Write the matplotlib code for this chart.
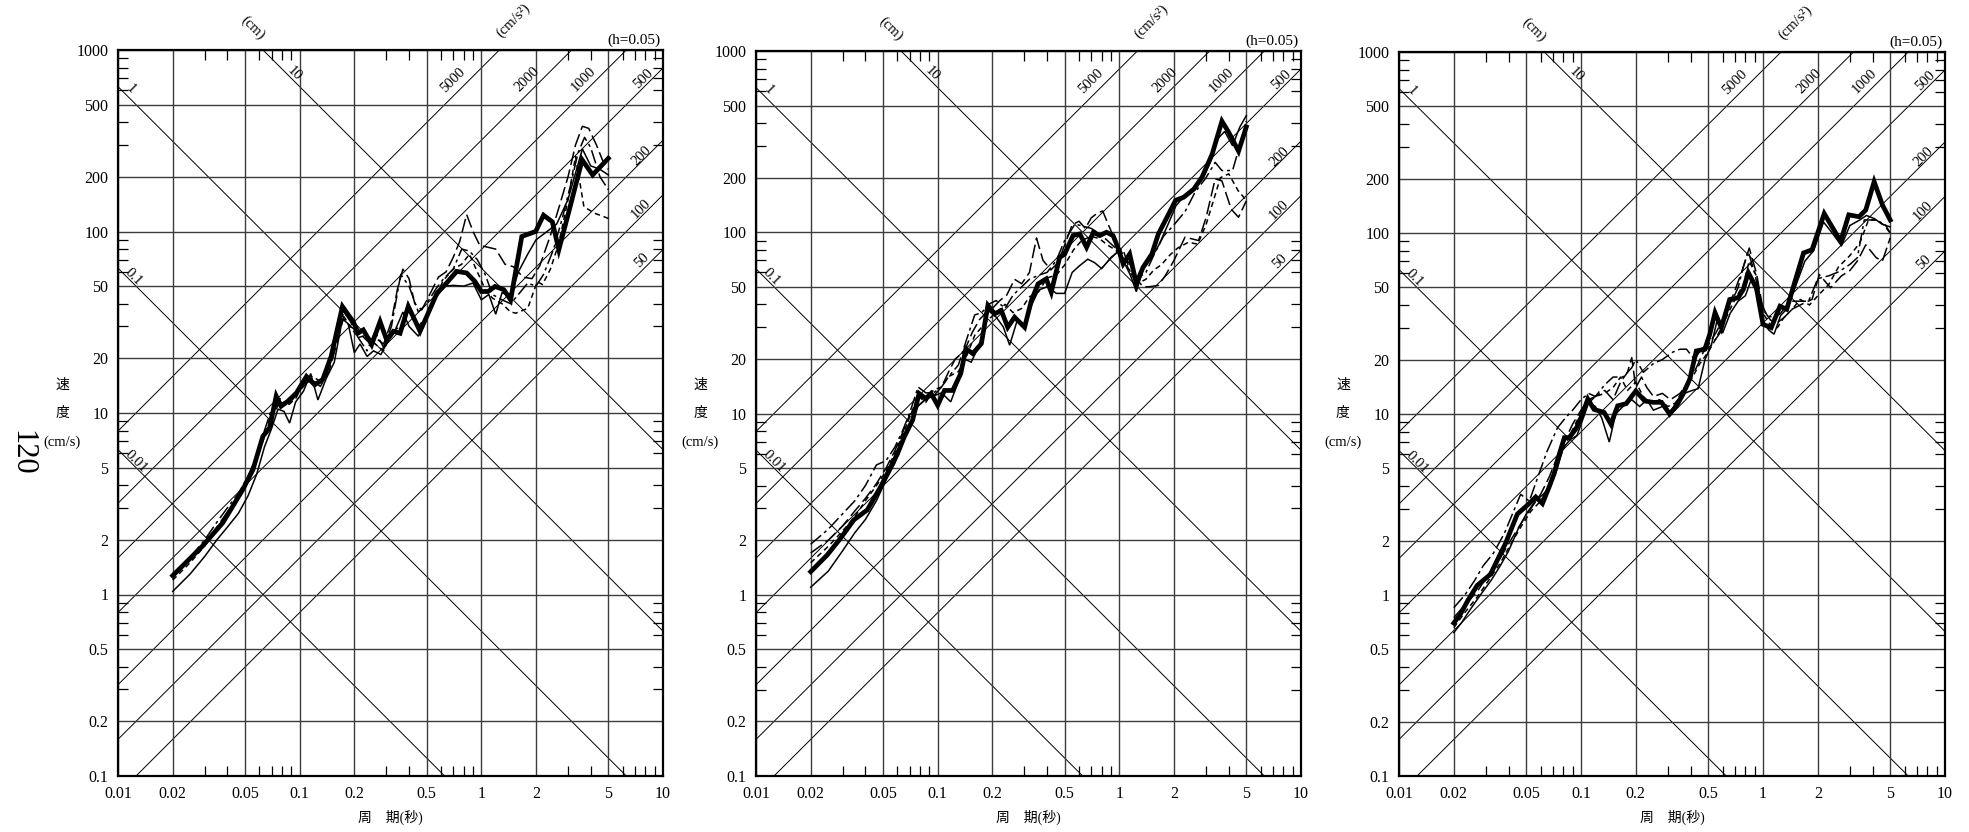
import numpy as np
import matplotlib
matplotlib.use("Agg")
import matplotlib.pyplot as plt
from matplotlib.ticker import FixedLocator, FixedFormatter, NullFormatter

plt.rcParams['font.family'] = ['Liberation Serif', 'Noto Sans CJK JP']

# ---------------------------------------------------------------------------
#  Tripartite grid levels
# ---------------------------------------------------------------------------
disp_levels = [0.01, 0.1, 1, 10]                       # cm
acc_levels = [50, 100, 200, 500, 1000, 2000, 5000]     # cm/s^2

x_major = [0.01, 0.02, 0.05, 0.1, 0.2, 0.5, 1, 2, 5, 10]
x_labels = ["0.01", "0.02", "0.05", "0.1", "0.2", "0.5", "1", "2", "5", "10"]
y_major = [0.1, 0.2, 0.5, 1, 2, 5, 10, 20, 50, 100, 200, 500, 1000]
y_labels = ["0.1", "0.2", "0.5", "1", "2", "5", "10", "20", "50", "100", "200", "500", "1000"]

# ---------------------------------------------------------------------------
#  Panel 1 spectra (period [s], velocity [cm/s])
# ---------------------------------------------------------------------------
p1_thick_T = [0.02, 0.0292, 0.0377, 0.0486, 0.0553, 0.0627, 0.0683, 0.0743, 0.079, 0.086, 0.096, 0.109, 0.121,
              0.134, 0.149, 0.172, 0.185, 0.197, 0.21, 0.224, 0.249, 0.277, 0.301, 0.328, 0.357, 0.396, 0.46,
              0.51, 0.57, 0.632, 0.73, 0.83, 0.92, 1.0, 1.09, 1.19, 1.33, 1.45, 1.67, 1.99, 2.2, 2.46, 2.67,
              3.04, 3.59, 4.1, 5.0]
p1_thick_V = [1.27, 1.85, 2.48, 3.78, 4.87, 7.44, 8.27, 12.4, 10.9, 11.6, 12.9, 15.9, 14.3, 15.3, 20.5, 38.6,
              34.8, 31.9, 27.6, 28.7, 23.8, 31.9, 25.3, 28.2, 27.5, 38.7, 28.2, 35.5, 45.8, 50.9, 60.3, 59.1,
              53.2, 46.7, 46.7, 49.8, 47.8, 42.0, 93.9, 100, 123, 113, 79.3, 130, 248, 205, 253]

p1_thin_T = [0.02, 0.025, 0.03, 0.035, 0.04, 0.046, 0.052, 0.058, 0.064, 0.07, 0.076, 0.082, 0.088, 0.095, 0.105,
             0.115, 0.126, 0.14, 0.155, 0.172, 0.185, 0.2, 0.215, 0.235, 0.255, 0.28, 0.3, 0.33, 0.37, 0.4, 0.45,
             0.5, 0.56, 0.63, 0.7, 0.8, 0.9, 1.0, 1.1, 1.2, 1.3, 1.45, 1.6, 1.8, 2.0, 2.3, 2.6, 3.0, 3.3, 3.6,
             4.0, 4.5, 5.0]
p1_thin_V = [1.04, 1.3, 1.62, 2.0, 2.35, 2.8, 3.5, 4.6, 6.5, 8.2, 10.5, 10.2, 8.8, 11.5, 13.2, 16.5, 11.8, 15.5,
             19.0, 33.0, 31.0, 21.5, 24.0, 20.5, 22.0, 21.0, 24.0, 27.5, 36.0, 30.0, 26.5, 33.0, 43.0, 50.0,
             50.5, 50.0, 52.0, 42.0, 45.0, 35.0, 46.0, 44.0, 60.0, 75.0, 90.0, 100, 110, 150, 210, 285, 230,
             220, 205]

p1_dash_T = [0.02, 0.025, 0.03, 0.035, 0.04, 0.046, 0.052, 0.058, 0.064, 0.07, 0.077, 0.085, 0.095, 0.105, 0.115,
             0.13, 0.145, 0.16, 0.175, 0.19, 0.21, 0.235, 0.26, 0.29, 0.32, 0.345, 0.37, 0.4, 0.43, 0.47, 0.52,
             0.58, 0.64, 0.7, 0.76, 0.83, 0.9, 0.98, 1.08, 1.2, 1.35, 1.5, 1.7, 1.9, 2.1, 2.4, 2.7, 3.0, 3.3,
             3.6, 3.9, 4.3, 4.7, 5.0]
p1_dash_V = [1.25, 1.55, 1.9, 2.35, 2.85, 3.4, 4.3, 5.6, 7.5, 10.0, 11.5, 11.0, 12.5, 14.0, 15.5, 14.0, 17.0,
             24.0, 34.0, 30.0, 28.0, 25.0, 26.0, 24.0, 32.0, 48.0, 62.0, 55.0, 40.0, 37.0, 45.0, 56.0, 60.0,
             72.0, 88.0, 124, 100, 84.0, 82.0, 80.0, 66.0, 64.0, 56.0, 55.0, 65.0, 95.0, 140, 200, 300, 380,
             370, 300, 240, 220]

p1_sdash_T = [0.02, 0.025, 0.03, 0.035, 0.04, 0.046, 0.052, 0.058, 0.064, 0.07, 0.078, 0.086, 0.095, 0.105, 0.115,
              0.13, 0.145, 0.16, 0.175, 0.19, 0.21, 0.235, 0.26, 0.29, 0.32, 0.36, 0.4, 0.45, 0.5, 0.56, 0.62,
              0.7, 0.78, 0.86, 0.95, 1.05, 1.15, 1.3, 1.45, 1.55, 1.8, 2.03, 2.17, 2.4, 2.67, 3.0, 3.3, 3.67,
              4.2, 4.6, 5.0]
p1_sdash_V = [1.2, 1.5, 1.85, 2.3, 2.8, 3.5, 4.4, 5.6, 7.4, 9.5, 11.5, 11.0, 12.0, 14.5, 15.0, 14.5, 18.0, 28.0,
              33.0, 30.0, 26.0, 27.0, 24.0, 22.0, 28.0, 30.0, 37.0, 30.0, 34.0, 44.0, 54.0, 62.0, 66.0, 75.0,
              60.0, 48.0, 43.0, 40.0, 36.0, 35.5, 37.7, 53.0, 51.0, 62.0, 86.0, 150, 259, 137, 126, 122, 118]

p1_dd_T = [0.02, 0.025, 0.03, 0.035, 0.04, 0.046, 0.052, 0.058, 0.064, 0.07, 0.078, 0.086, 0.095, 0.105, 0.115,
           0.13, 0.145, 0.16, 0.175, 0.19, 0.21, 0.235, 0.26, 0.29, 0.32, 0.36, 0.4, 0.45, 0.5, 0.56, 0.62, 0.7,
           0.78, 0.86, 0.95, 1.05, 1.15, 1.3, 1.45, 1.6, 1.8, 2.0, 2.2, 2.5, 2.8, 3.1, 3.4, 3.7, 4.0, 4.5, 5.0]
p1_dd_V = [1.3, 1.6, 2.0, 2.5, 3.0, 3.6, 4.5, 5.8, 8.0, 10.5, 12.0, 11.0, 12.5, 14.5, 16.0, 15.0, 18.0, 26.0,
           36.0, 32.0, 26.0, 22.0, 28.0, 23.0, 30.0, 58.0, 50.0, 36.0, 40.0, 48.0, 55.0, 62.0, 80.0, 78.0, 70.0,
           58.0, 45.0, 42.0, 40.0, 45.0, 52.0, 50.0, 58.0, 80.0, 120, 180, 270, 330, 290, 200, 170]

# ---------------------------------------------------------------------------
#  Panel 2 spectra
# ---------------------------------------------------------------------------
p2_thick_T = [0.02, 0.0247, 0.0292, 0.0346, 0.041, 0.0486, 0.0553, 0.0601, 0.0655, 0.0728, 0.079, 0.086, 0.092,
              0.1, 0.109, 0.121, 0.134, 0.143, 0.156, 0.174, 0.189, 0.206, 0.224, 0.243, 0.265, 0.301, 0.328,
              0.357, 0.396, 0.422, 0.469, 0.5, 0.556, 0.606, 0.66, 0.72, 0.78, 0.85, 0.924, 0.98, 1.05, 1.14,
              1.24, 1.35, 1.51, 1.64, 1.83, 2.04, 2.26, 2.57, 2.85, 3.24, 3.67, 4.0, 4.53, 5.0]
p2_thick_V = [1.34, 1.66, 2.05, 2.59, 2.94, 3.95, 5.1, 6.0, 7.44, 9.2, 12.9, 12.1, 12.9, 11.1, 13.4, 13.4, 16.6,
              22.8, 21.4, 24.3, 39.5, 35.5, 37.0, 29.9, 34.0, 29.9, 42.0, 51.9, 55.3, 46.7, 72.5, 75.8, 95.9,
              97.9, 82.6, 100, 95.9, 100, 95.9, 82.6, 66.9, 75.8, 52.1, 64.0, 75.8, 97.9, 121, 150, 156, 173,
              201, 269, 410, 356, 280, 381]

p2_thin_T = [0.02, 0.025, 0.03, 0.035, 0.04, 0.046, 0.052, 0.058, 0.064, 0.07, 0.078, 0.086, 0.095, 0.105, 0.118,
             0.13, 0.14, 0.153, 0.17, 0.19, 0.21, 0.23, 0.249, 0.275, 0.3, 0.33, 0.36, 0.4, 0.45, 0.5, 0.55, 0.6,
             0.67, 0.73, 0.8, 0.9, 0.98, 1.05, 1.15, 1.24, 1.35, 1.5, 1.65, 1.85, 2.05, 2.3, 2.6, 2.9, 3.2, 3.5,
             3.8, 4.2, 4.6, 5.0]
p2_thin_V = [1.1, 1.35, 1.75, 2.2, 2.6, 3.3, 4.3, 5.3, 6.8, 8.5, 11.0, 12.0, 12.5, 13.0, 11.6, 15.0, 20.0, 19.2,
             24.0, 37.0, 34.0, 30.0, 23.8, 33.0, 31.0, 40.0, 48.0, 50.0, 46.0, 46.0, 60.0, 65.0, 71.0, 68.0, 63.0,
             72.7, 78.0, 70.0, 58.0, 47.0, 62.0, 72.0, 85.0, 110, 140, 160, 175, 200, 250, 330, 360, 300, 380, 440]

p2_dash_T = [0.02, 0.025, 0.03, 0.035, 0.04, 0.046, 0.052, 0.058, 0.064, 0.07, 0.078, 0.086, 0.095, 0.105, 0.115,
             0.125, 0.14, 0.155, 0.17, 0.185, 0.2, 0.22, 0.24, 0.265, 0.29, 0.32, 0.35, 0.38, 0.42, 0.46, 0.5,
             0.55, 0.6, 0.65, 0.7, 0.76, 0.81, 0.87, 0.95, 1.05, 1.15, 1.25, 1.35, 1.45, 1.64, 1.79, 2.0, 2.3,
             2.73, 3.0, 3.37, 3.67, 4.13, 4.53, 5.0]
p2_dash_V = [1.7, 2.0, 2.4, 2.9, 3.4, 4.1, 5.0, 6.2, 7.8, 9.8, 11.0, 12.0, 12.5, 14.0, 17.0, 20.0, 22.0, 28.0,
             33.0, 36.0, 38.0, 42.0, 45.0, 55.0, 52.0, 60.0, 93.0, 70.0, 62.0, 68.0, 85.0, 110, 115, 105, 120,
             128, 131, 110, 90.0, 75.0, 66.0, 55.0, 50.0, 50.0, 50.9, 57.6, 70.0, 94.0, 90.0, 120, 197, 192, 134,
             121, 149]

p2_sdash_T = [0.02, 0.025, 0.03, 0.035, 0.04, 0.046, 0.052, 0.058, 0.064, 0.07, 0.078, 0.086, 0.095, 0.105, 0.115,
              0.13, 0.145, 0.16, 0.175, 0.19, 0.21, 0.235, 0.26, 0.29, 0.32, 0.36, 0.4, 0.45, 0.5, 0.56, 0.62,
              0.7, 0.78, 0.86, 0.95, 1.05, 1.15, 1.25, 1.4, 1.55, 1.7, 1.9, 2.1, 2.4, 2.7, 3.0, 3.3, 3.6, 4.0,
              4.5, 5.0]
p2_sdash_V = [1.5, 1.85, 2.25, 2.7, 3.3, 4.0, 4.8, 6.0, 7.6, 9.5, 12.5, 11.5, 13.5, 14.0, 16.0, 17.0, 21.0, 27.0,
              30.0, 33.0, 36.0, 40.0, 36.0, 38.0, 44.0, 47.0, 56.0, 58.0, 66.0, 80.0, 90.0, 95.0, 92.0, 85.0,
              80.0, 72.0, 60.0, 52.0, 55.0, 62.0, 66.0, 75.0, 82.0, 88.0, 86.0, 110, 150, 200, 210, 170, 150]

p2_dd_T = [0.02, 0.025, 0.03, 0.035, 0.04, 0.046, 0.052, 0.058, 0.064, 0.07, 0.078, 0.086, 0.095, 0.105, 0.115,
           0.13, 0.145, 0.16, 0.175, 0.19, 0.21, 0.235, 0.26, 0.29, 0.32, 0.36, 0.4, 0.45, 0.5, 0.57, 0.63, 0.7,
           0.78, 0.86, 0.95, 1.05, 1.15, 1.25, 1.4, 1.55, 1.75, 2.0, 2.3, 2.6, 3.0, 3.37, 3.67, 4.2, 4.6, 5.0]
p2_dd_V = [1.9, 2.3, 2.8, 3.3, 4.0, 5.2, 5.5, 6.5, 8.0, 10.0, 14.0, 13.0, 13.0, 14.0, 16.0, 18.5, 26.0, 35.0,
           36.0, 40.0, 42.0, 38.0, 45.0, 50.0, 55.0, 58.0, 60.0, 70.0, 90.0, 111, 108, 105, 98.0, 90.0, 82.0,
           80.0, 60.0, 55.0, 60.0, 75.0, 95.0, 110, 130, 165, 200, 243, 219, 219, 300, 410]

# ---------------------------------------------------------------------------
#  Panel 3 spectra
# ---------------------------------------------------------------------------
p3_thick_T = [0.02, 0.0217, 0.024, 0.0269, 0.0318, 0.0346, 0.0385, 0.0447, 0.0519, 0.0564, 0.0614, 0.0668,
              0.0712, 0.076, 0.081, 0.086, 0.094, 0.102, 0.109, 0.118, 0.134, 0.146, 0.159, 0.177, 0.2, 0.224,
              0.249, 0.277, 0.307, 0.335, 0.364, 0.396, 0.43, 0.479, 0.51, 0.545, 0.59, 0.656, 0.73, 0.78, 0.83,
              0.92, 1.0, 1.11, 1.24, 1.35, 1.5, 1.67, 1.86, 2.17, 2.67, 2.96, 3.37, 3.67, 4.08, 4.53, 5.0]
p3_thick_V = [0.7, 0.78, 0.94, 1.13, 1.3, 1.55, 1.93, 2.8, 3.2, 3.48, 3.2, 3.95, 4.68, 6.0, 7.4, 7.4, 8.3, 10.0,
              12.1, 10.6, 10.2, 8.8, 11.1, 11.4, 13.4, 11.8, 11.6, 11.6, 10.0, 11.1, 12.9, 15.6, 22.3, 22.8, 27.6,
              36.3, 30.0, 42.9, 43.9, 48.8, 60.4, 49.6, 31.3, 30.0, 39.4, 37.9, 54.2, 77.6, 80.8, 128, 90.0, 126,
              123, 134, 192, 143, 118]

p3_thin_T = [0.02, 0.022, 0.025, 0.028, 0.032, 0.036, 0.04, 0.045, 0.05, 0.056, 0.062, 0.068, 0.074, 0.08, 0.087,
             0.095, 0.103, 0.11, 0.12, 0.13, 0.143, 0.155, 0.17, 0.19, 0.21, 0.23, 0.25, 0.28, 0.31, 0.34, 0.37,
             0.4, 0.44, 0.48, 0.52, 0.56, 0.6, 0.66, 0.73, 0.8, 0.86, 0.93, 1.0, 1.08, 1.15, 1.25, 1.35, 1.5,
             1.7, 1.9, 2.15, 2.4, 2.7, 3.0, 3.4, 3.7, 4.1, 4.5, 5.0]
p3_thin_V = [0.62, 0.7, 0.85, 1.0, 1.2, 1.45, 1.75, 2.3, 2.8, 3.3, 3.6, 4.0, 5.0, 6.5, 7.2, 7.6, 9.5, 11.5, 11.0,
             9.5, 7.0, 10.0, 11.0, 12.0, 11.0, 12.0, 10.5, 11.0, 10.2, 12.0, 13.0, 13.4, 13.8, 20.0, 24.0, 33.0,
             28.0, 36.0, 42.0, 45.0, 55.0, 46.0, 32.0, 29.0, 27.6, 35.0, 38.0, 50.0, 70.0, 80.0, 115, 100, 85.0,
             110, 118, 125, 120, 112, 108]

p3_dash_T = [0.02, 0.023, 0.027, 0.031, 0.036, 0.041, 0.047, 0.053, 0.06, 0.067, 0.074, 0.082, 0.09, 0.1, 0.11,
             0.12, 0.135, 0.15, 0.165, 0.18, 0.19, 0.2, 0.215, 0.23, 0.25, 0.28, 0.31, 0.35, 0.39, 0.43, 0.47,
             0.52, 0.58, 0.64, 0.7, 0.76, 0.84, 0.92, 1.0, 1.1, 1.2, 1.3, 1.45, 1.6, 1.86, 2.04, 2.35, 2.7, 3.0,
             3.3, 3.67, 4.19, 4.53, 5.0]
p3_dash_V = [0.75, 0.88, 1.05, 1.3, 1.6, 2.0, 2.5, 3.0, 3.6, 4.5, 5.8, 7.2, 8.8, 10.5, 12.0, 12.5, 13.5, 12.0,
             15.0, 17.0, 20.5, 14.0, 16.0, 14.0, 12.5, 13.0, 12.0, 13.0, 15.0, 18.0, 22.0, 24.0, 28.0, 38.0, 48.0,
             60.0, 82.6, 60.0, 38.0, 33.0, 32.0, 34.0, 38.0, 40.0, 43.0, 58.9, 49.8, 58.0, 62.0, 70.0, 86.0, 73.0,
             70.0, 94.0]

p3_sdash_T = [0.02, 0.023, 0.027, 0.031, 0.036, 0.041, 0.047, 0.053, 0.06, 0.067, 0.074, 0.082, 0.09, 0.1, 0.11,
              0.12, 0.135, 0.15, 0.165, 0.18, 0.2, 0.22, 0.24, 0.27, 0.3, 0.33, 0.37, 0.41, 0.45, 0.5, 0.55, 0.6,
              0.66, 0.72, 0.78, 0.84, 0.92, 1.0, 1.1, 1.2, 1.3, 1.45, 1.6, 1.8, 2.0, 2.3, 2.6, 3.0, 3.4, 3.8, 4.2,
              4.6, 5.0]
p3_sdash_V = [0.66, 0.8, 0.98, 1.2, 1.5, 1.9, 2.4, 2.9, 3.3, 4.0, 5.3, 6.8, 8.2, 10.2, 11.5, 12.5, 13.0, 14.0,
              16.0, 13.5, 15.0, 12.5, 11.5, 12.0, 11.0, 11.5, 14.0, 16.0, 19.0, 22.0, 26.0, 31.0, 38.0, 45.0, 52.0,
              70.0, 58.0, 36.0, 31.0, 30.0, 34.0, 38.0, 43.0, 40.0, 45.0, 52.0, 65.0, 75.0, 88.0, 118, 118, 111, 100]

p3_dd_T = [0.02, 0.023, 0.026, 0.029, 0.033, 0.038, 0.0466, 0.052, 0.058, 0.065, 0.0743, 0.082, 0.09, 0.1, 0.11,
           0.12, 0.135, 0.15, 0.17, 0.19, 0.2, 0.22, 0.25, 0.28, 0.32, 0.35, 0.38, 0.42, 0.46, 0.5, 0.55, 0.6,
           0.66, 0.73, 0.78, 0.83, 0.9, 0.97, 1.05, 1.15, 1.25, 1.4, 1.6, 1.78, 2.0, 2.3, 2.6, 3.0, 3.3, 3.6, 4.2,
           4.7, 5.0]
p3_dd_V = [0.85, 1.0, 1.2, 1.45, 1.7, 2.2, 3.6, 3.3, 4.5, 6.2, 8.4, 9.5, 10.5, 12.0, 13.0, 12.5, 14.5, 16.0, 16.0,
           18.0, 20.0, 17.0, 19.0, 20.0, 22.0, 22.8, 22.8, 20.0, 23.0, 24.0, 28.0, 33.0, 40.0, 50.0, 65.0, 79.0,
           60.0, 42.0, 35.0, 34.0, 36.0, 42.0, 42.0, 42.0, 56.0, 58.0, 61.0, 67.0, 73.0, 118, 118, 111, 100]

panels_data = [
    [(p1_thick_T, p1_thick_V), (p1_thin_T, p1_thin_V), (p1_dash_T, p1_dash_V),
     (p1_sdash_T, p1_sdash_V), (p1_dd_T, p1_dd_V)],
    [(p2_thick_T, p2_thick_V), (p2_thin_T, p2_thin_V), (p2_dash_T, p2_dash_V),
     (p2_sdash_T, p2_sdash_V), (p2_dd_T, p2_dd_V)],
    [(p3_thick_T, p3_thick_V), (p3_thin_T, p3_thin_V), (p3_dash_T, p3_dash_V),
     (p3_sdash_T, p3_sdash_V), (p3_dd_T, p3_dd_V)],
]
series_style = [
    dict(lw=3.4, ls="-"),
    dict(lw=1.1, ls="-"),
    dict(lw=1.1, ls=(0, (9, 3))),
    dict(lw=1.1, ls=(0, (3.5, 2.5))),
    dict(lw=1.1, ls=(0, (9, 2.5, 2, 2.5))),
]

# label positions for the diagonal scales (period, velocity)
disp_label_pos = {"0.01": (0.0125, 5.4), "0.1": (0.0122, 56.4), "1": (0.0118, 610), "10": (0.094, 745)}
acc_label_pos = {"5000": (0.70, 680), "2000": (1.79, 690), "1000": (3.63, 690), "500": (7.8, 690),
                 "200": (7.6, 262), "100": (7.6, 133), "50": (7.6, 69)}

# ---------------------------------------------------------------------------
#  Figure
# ---------------------------------------------------------------------------
W, H = 1969, 832
fig = plt.figure(figsize=(W / 100, H / 100), dpi=100)
boxes = [(118, 50, 663, 776), (756, 51, 1301, 776), (1399, 52, 1945, 776)]

T_ends = np.array([0.005, 20.0])

for (l, t, r, b), series in zip(boxes, panels_data):
    ax = fig.add_axes([l / W, 1 - b / H, (r - l) / W, (b - t) / H])
    ax.set_xscale("log")
    ax.set_yscale("log")
    ax.set_xlim(0.01, 10)
    ax.set_ylim(0.1, 1000)

    ax.xaxis.set_major_locator(FixedLocator(x_major))
    ax.xaxis.set_major_formatter(FixedFormatter(x_labels))
    ax.yaxis.set_major_locator(FixedLocator(y_major))
    ax.yaxis.set_major_formatter(FixedFormatter(y_labels))
    minors_x = [m * 10.0 ** e for e in range(-2, 1) for m in (3, 4, 6, 7, 8, 9)]
    minors_y = [m * 10.0 ** e for e in range(-1, 3) for m in (3, 4, 6, 7, 8, 9)]
    ax.xaxis.set_minor_locator(FixedLocator(minors_x))
    ax.yaxis.set_minor_locator(FixedLocator(minors_y))
    ax.xaxis.set_minor_formatter(NullFormatter())
    ax.yaxis.set_minor_formatter(NullFormatter())
    ax.tick_params(which="major", length=0, pad=7, labelsize=11.5)
    ax.tick_params(which="minor", direction="in", length=7, width=0.9, top=True, right=True)
    for sp in ax.spines.values():
        sp.set_linewidth(1.6)

    ax.grid(which="major", color="#3c3c3c", lw=1.0)

    for D in disp_levels:
        ax.plot(T_ends, 2 * np.pi * D / T_ends, color="k", lw=0.7, zorder=1.5)
    for A in acc_levels:
        ax.plot(T_ends, A * T_ends / (2 * np.pi), color="k", lw=0.7, zorder=1.5)

    for txt, (tx, vy) in disp_label_pos.items():
        ax.text(tx, vy, txt, rotation=-45, fontsize=10.5, ha="center", va="center", zorder=3)
    for txt, (tx, vy) in acc_label_pos.items():
        ax.text(tx, vy, txt, rotation=45, fontsize=10.5, ha="center", va="center", zorder=3,
                clip_on=False)

    ax.text(0.055, 1330, "(cm)", rotation=-45, fontsize=10.5, ha="center", va="center", clip_on=False)
    ax.text(1.5, 1450, "(cm/s²)", rotation=45, fontsize=10.5, ha="center", va="center", clip_on=False)
    ax.text(0.995, 1.004, "(h=0.05)", transform=ax.transAxes, fontsize=11, ha="right", va="bottom")

    for (T, V), st in zip(series, series_style):
        ax.plot(T, V, color="k", solid_joinstyle="miter", zorder=4, **st)

    # axis captions
    cx = l - 56
    fig.text(cx / W, 1 - 385 / H, "速", fontsize=10, ha="center", va="center")
    fig.text(cx / W, 1 - 413 / H, "度", fontsize=10, ha="center", va="center")
    fig.text(cx / W, 1 - 442 / H, "(cm/s)", fontsize=10.5, ha="center", va="center")
    fig.text((l + r) / 2 / W, 1 - 817 / H, "周　期(秒)", fontsize=10, ha="center", va="center")

fig.text(22 / W, 1 - 453 / H, "120", rotation=-90, fontsize=22, ha="center", va="center")

fig.savefig("out.png", dpi=100)
